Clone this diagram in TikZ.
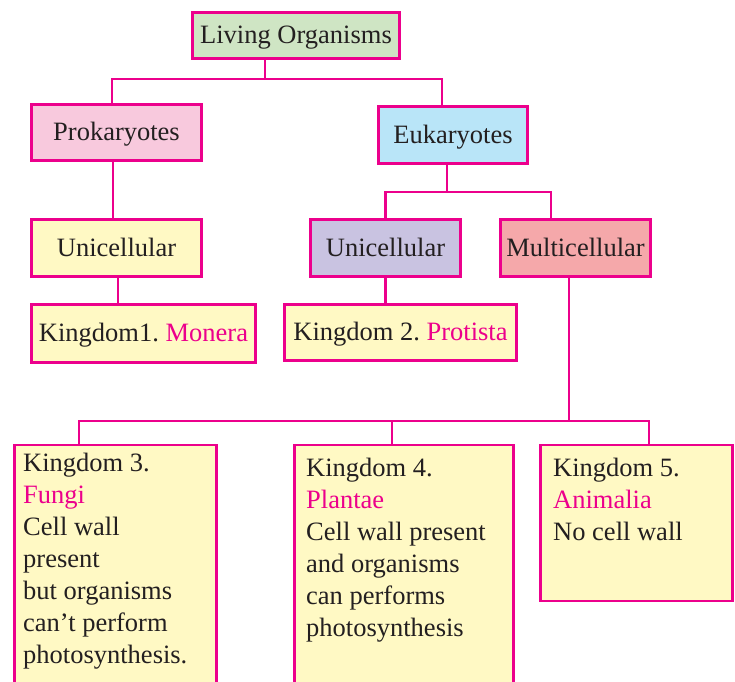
\documentclass[tikz,border=0pt]{standalone}
\usepackage{fontspec}
\setmainfont{Liberation Serif}
\definecolor{mag}{HTML}{EC008C}
\definecolor{txt}{HTML}{231F20}
\definecolor{fgreen}{HTML}{CFE5C4}
\definecolor{fpink}{HTML}{F8C9DD}
\definecolor{fblue}{HTML}{B9E5F8}
\definecolor{fyellow}{HTML}{FFF9C4}
\definecolor{flav}{HTML}{C9C3E1}
\definecolor{fsalmon}{HTML}{F5A8AA}
\tikzset{
  box/.style={draw=mag, line width=2.8pt, inner sep=0pt, text=txt,
    font=\fontsize{26.5}{32}\selectfont, text height=21pt, text depth=5pt},
  conn/.style={draw=mag, line width=2.7pt},
  ktext/.style={anchor=north west, align=left, inner sep=0pt, text=txt,
    font=\fontsize{26.5}{32}\selectfont},
}
\frenchspacing
\begin{document}
\frenchspacing
\begin{tikzpicture}[x=1pt,y=-1pt]
\useasboundingbox (0,0) rectangle (735,681);
\clip (0,0) rectangle (735,681);
% boxes
\node[box, fill=fgreen, minimum width=207pt, minimum height=46pt] (living) at (296,35.5) {Living Organisms};
\node[box, fill=fpink, minimum width=170pt, minimum height=56pt] (prok) at (116.5,132.5) {Prokaryotes};
\node[box, fill=fblue, minimum width=149pt, minimum height=57pt] (euk) at (453,135) {Eukaryotes};
\node[box, fill=fyellow, minimum width=170pt, minimum height=57pt] (uni1) at (116.5,248) {Unicellular};
\node[box, fill=fyellow, minimum width=224pt, minimum height=58pt] (k1) at (143.5,333.5) {Kingdom1. \textcolor{mag}{Monera}};
\node[box, fill=flav, minimum width=150pt, minimum height=57pt] (uni2) at (385.5,248) {Unicellular};
\node[box, fill=fsalmon, minimum width=150pt, minimum height=57pt] (multi) at (575.5,248) {Multicellular};
\node[box, fill=fyellow, minimum width=232pt, minimum height=56pt] (k2) at (400.5,332.5) {Kingdom 2. \textcolor{mag}{Protista}};
\node[box, fill=fyellow, anchor=north, minimum width=202pt, minimum height=260pt] (k3) at (115.5,443.5) {};
\node[box, fill=fyellow, anchor=north, minimum width=219pt, minimum height=260pt] (k4) at (404,443.5) {};
\node[box, fill=fyellow, anchor=north, minimum width=192pt, minimum height=156pt] (k5) at (636.5,443.5) {};
% texts in big boxes
\node[ktext] (k3t) at (23,453) {Kingdom 3.\\ \textcolor{mag}{Fungi}\\ Cell wall\\ present\\ but organisms\\ can't perform\\ photosynthesis.};
\node[ktext] (k4t) at (306,458) {Kingdom 4.\\ \textcolor{mag}{Plantae}\\ Cell wall present\\ and organisms\\ can performs\\ photosynthesis};
\node[ktext] (k5t) at (553,458) {Kingdom 5.\\ \textcolor{mag}{Animalia}\\ No cell wall};
% junctions
\coordinate (t1) at (265,79);
\coordinate (t2) at (447,192);
\coordinate (t3) at (569,421);
% connectors
\draw[conn] (t1 |- living.south) -- (t1);
\draw[conn] ([xshift=-4.5pt]prok.north) |- (t1) -| ([xshift=-11pt]euk.north);
\draw[conn] ([xshift=-3.5pt]prok.south) -- ([xshift=-3.5pt]uni1.north);
\draw[conn] ([xshift=1.5pt]uni1.south) -- ([xshift=1.5pt]uni1.south |- k1.north);
\draw[conn] (t2 |- euk.south) -- (t2);
\draw[conn] (uni2.north) |- (t2) -| ([xshift=-24.5pt]multi.north);
\draw[conn] (uni2.south) -- (uni2.south |- k2.north);
\draw[conn] (t3 |- multi.south) -- (t3);
\draw[conn] ([xshift=-36.5pt]k3.north) |- (t3) -| ([xshift=12.5pt]k5.north);
\draw[conn] ([xshift=-12pt]k4.north) -- ([xshift=-12pt]k4.north |- t3);
\end{tikzpicture}
\end{document}
